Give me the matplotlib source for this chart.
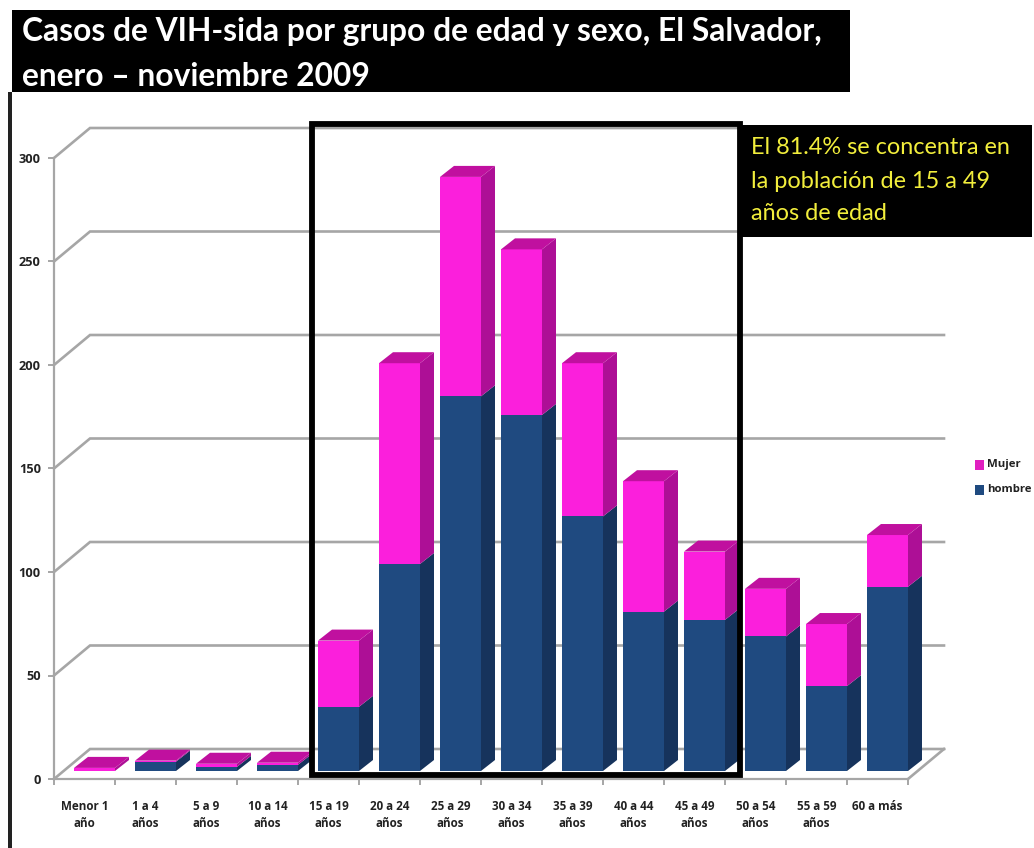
import matplotlib
matplotlib.use("Agg")
import matplotlib.pyplot as plt
from matplotlib.patches import Polygon, Rectangle

categorias = ["Menor 1\naño", "1 a 4\naños", "5 a 9\naños", "10 a 14\naños", "15 a 19\naños",
              "20 a 24\naños", "25 a 29\naños", "30 a 34\naños", "35 a 39\naños", "40 a 44\naños",
              "45 a 49\naños", "50 a 54\naños", "55 a 59\naños", "60 a más"]
hombre = [0, 4.5, 2, 3, 31, 100, 181, 172, 123, 77, 73, 65, 41, 89]
mujer = [1.5, 0.5, 1.5, 1, 32, 97, 106, 80, 74, 63, 33, 23, 30, 25]
yticks = [0, 50, 100, 150, 200, 250, 300]

W, H = 1034, 848
fig = plt.figure(figsize=(W / 100, H / 100), dpi=100, facecolor="white")
plt.rcParams["font.family"] = ["Open Sans", "DejaVu Sans"]

# axes box in pixels
L, R, Y0, Y300 = 54, 908, 779, 158
ax = fig.add_axes([L / W, 1 - Y0 / H, (R - L) / W, (Y0 - Y300) / H])
ax.set_xlim(0, 14)
ax.set_ylim(0, 300)
ax.patch.set_alpha(0)
for s in ("top", "right"):
    ax.spines[s].set_visible(False)
for s in ("left", "bottom"):
    ax.spines[s].set_color("#a6a6a6")
    ax.spines[s].set_linewidth(1.6)

ux = (R - L) / 14   # px per category
uy = (Y0 - Y300) / 300  # px per case
wall_dx, wall_dy = 36 / ux, 30 / uy
bar_dx, bar_dy = 14 / ux, 11 / uy
base = 8 / uy
width = 41 / ux
GRID = "#a6a6a6"

for v in yticks:
    xs = [0, wall_dx, 14 + wall_dx]
    ys = [v, v + wall_dy, v + wall_dy]
    ax.plot(xs, ys, color=GRID, lw=1.9, clip_on=False, zorder=1, solid_joinstyle="miter")
ax.plot([14, 14 + wall_dx], [0, wall_dy], color=GRID, lw=1.9, clip_on=False, zorder=1)

FM, SM, TM = "#fb1fdc", "#ad0f96", "#c0109f"
FH, SH = "#1f4a80", "#16335c"

for i, (h, m) in enumerate(zip(hombre, mujer)):
    x0 = i + 1 - width
    x1 = i + 1
    bottom = base
    z = 3 + i
    for val, front, side in ((h, FH, SH), (m, FM, SM)):
        if val <= 0:
            continue
        ax.bar(x1 - width / 2, val, width, bottom=bottom, color=front, lw=0, zorder=z, clip_on=False)
        top = bottom + val
        ax.add_patch(Polygon([(x1, bottom), (x1 + bar_dx, bottom + bar_dy),
                              (x1 + bar_dx, top + bar_dy), (x1, top)],
                             closed=True, fc=side, ec="none", zorder=z, clip_on=False))
        bottom = top
    ax.add_patch(Polygon([(x0, bottom), (x1, bottom), (x1 + bar_dx, bottom + bar_dy),
                          (x0 + bar_dx, bottom + bar_dy)],
                         closed=True, fc=TM, ec="none", zorder=z, clip_on=False))

ax.set_yticks(yticks)
ax.set_xticks(range(15))
ax.set_xticklabels([])
ax.tick_params(axis="both", color=GRID, width=1.4, length=4, pad=5.5, labelsize=9.2)
ax.set_yticklabels([str(v) for v in yticks], fontweight="bold", color="#222222")
for i, c in enumerate(categorias):
    ax.annotate(c, xy=(i + 0.5, 0), xycoords="data", xytext=(0, -15), textcoords="offset points",
                ha="center", va="top", fontsize=8.4, fontweight="bold", color="#222222",
                linespacing=1.4, annotation_clip=False)

# page furniture drawn in pixel coordinates
page = fig.add_axes([0, 0, 1, 1], zorder=10)
page.set_xlim(0, W)
page.set_ylim(H, 0)
page.axis("off")
page.add_patch(Rectangle((8, 92), 4, H - 92, fc="#222222", ec="none"))
page.add_patch(Rectangle((12, 10), 838, 82, fc="black", ec="none"))
page.text(22, 31, "Casos de VIH-sida por grupo de edad y sexo, El Salvador,",
          color="white", fontsize=22.9, fontweight="bold", family="Lato", va="center")
page.text(22, 77, "enero – noviembre 2009",
          color="white", fontsize=22.9, fontweight="bold", family="Lato", va="center")
page.add_patch(Rectangle((312, 124), 428, 651, fc="none", ec="black", lw=4.2))
page.add_patch(Rectangle((741, 125), 291, 112, fc="black", ec="none"))
for y, t in zip((148, 181, 214), ("El 81.4% se concentra en", "la población de 15 a 49", "años de edad")):
    page.text(751, y, t, color="#f2ee3c", fontsize=16.9, family="Lato", va="center")
page.add_patch(Rectangle((975, 460), 9, 10, fc="#e020c0", ec="none"))
page.add_patch(Rectangle((975, 485), 9, 10, fc=FH, ec="none"))
page.text(987, 465, "Mujer", fontsize=8.2, fontweight="bold", color="#222222", va="center")
page.text(987, 490, "hombre", fontsize=8.2, fontweight="bold", color="#222222", va="center")

fig.savefig("out.png", dpi=100)
